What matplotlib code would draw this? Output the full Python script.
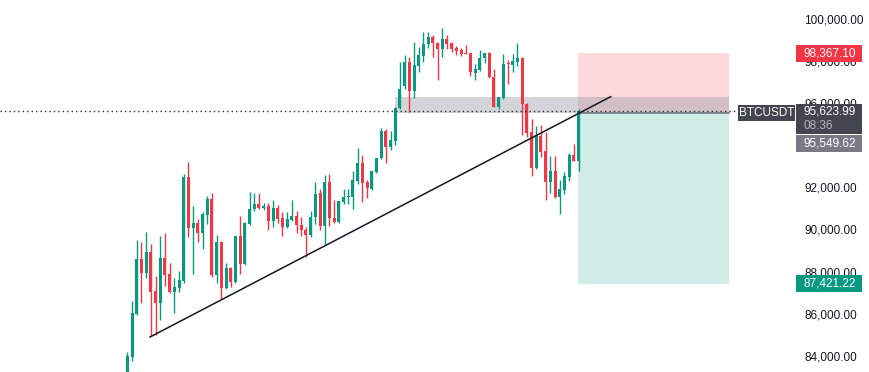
import matplotlib
matplotlib.use('Agg')
import matplotlib.pyplot as plt
from matplotlib.patches import Rectangle
from matplotlib.transforms import IdentityTransform
import numpy as np

plt.rcParams['font.family'] = ['Liberation Sans', 'DejaVu Sans']

opens = [83135, 83940, 85985, 88600, 87930, 88930, 87075, 86505, 88645, 87890,
         87030, 87220, 87550, 92490, 90070, 90305, 89830, 90690, 91450, 87845,
         89405, 87220, 88170, 87505, 89690, 88360, 90260, 90975, 91210, 91020,
         91115, 90400, 91020, 90545, 90115, 90450, 90640, 90210, 89975, 89735,
         90590, 91730, 90165, 92255, 90545, 90355, 91305, 91545, 91545, 92305,
         93160, 92255, 91925, 92730, 93395, 94680, 93920, 94200, 95770, 96815,
         97960, 96580, 97765, 98240, 98810, 99145, 98860, 98575, 99050, 98860,
         98620, 98525, 98380, 98385, 97435, 97575, 98145, 98385, 97245, 95820,
         96245, 97910, 97815, 97960, 98145, 95960, 94630, 92920, 94440, 93730,
         92255, 92780, 91545, 91875, 92490, 93540, 93250]
highs = [84180, 86600, 89500, 89405, 89880, 89310, 87790, 89690, 89830, 88405,
         87695, 88025, 92635, 93205, 91115, 90500, 90830, 91590, 91730, 89735,
         89450, 88405, 88215, 89690, 90640, 90355, 91780, 91730, 91730, 91260,
         91260, 91400, 91165, 90830, 90830, 91400, 90880, 90590, 90115, 90880,
         92255, 91925, 92590, 92635, 91400, 91350, 91925, 91925, 92780, 93870,
         93540, 92350, 92780, 93395, 94820, 94775, 94680, 95820, 97960, 98290,
         98195, 98905, 98670, 99380, 99380, 99240, 98905, 99570, 99240, 98905,
         98715, 98620, 98765, 98400, 97860, 98525, 98385, 98430, 97625, 96295,
         98335, 98050, 98335, 98860, 98195, 96010, 95250, 94915, 94965, 94630,
         93490, 93490, 92350, 92730, 93635, 94060, 95700]
lows = [82945, 83750, 85950, 86505, 87695, 84940, 84990, 85700, 87315, 86980,
        86030, 87030, 87455, 89640, 87890, 89405, 89070, 90260, 87745, 87455,
        86695, 87170, 87265, 87455, 87890, 88310, 90210, 90880, 90975, 90925,
        89975, 90115, 90305, 89690, 90070, 90400, 89830, 89690, 88690, 89640,
        90260, 89975, 89310, 90165, 90305, 90305, 91210, 91210, 90975, 92160,
        91305, 91495, 91880, 92685, 93350, 93160, 93775, 94010, 95720, 96675,
        95580, 96245, 97480, 97960, 98620, 98195, 97100, 98195, 98575, 98430,
        98290, 98240, 98335, 97290, 97100, 97530, 97910, 97195, 95800, 95720,
        96200, 96910, 97480, 97765, 94490, 94395, 92540, 92870, 93440, 91400,
        91730, 91495, 90735, 91685, 92305, 93230, 92780]
closes = [83990, 86030, 88600, 87930, 88930, 87030, 86505, 88645, 87845, 87030,
          87265, 87600, 92490, 90070, 90305, 89830, 90735, 91450, 87845, 89405,
          87220, 88170, 87505, 89690, 88360, 90305, 90975, 91210, 91020, 91115,
          90400, 91020, 90495, 90115, 90495, 90640, 90210, 89975, 89735, 90590,
          91685, 90165, 92255, 90545, 90355, 91350, 91545, 91590, 92350, 93160,
          92210, 91970, 92780, 93395, 94680, 93920, 94250, 95770, 96675, 97960,
          96580, 97815, 98290, 98810, 99145, 98860, 98575, 99050, 98810, 98575,
          98480, 98335, 98340, 97480, 97625, 98145, 98385, 97245, 95820, 96295,
          97860, 97860, 98005, 98145, 95960, 94585, 92920, 94490, 93680, 92255,
          92780, 91545, 91925, 92540, 93540, 93250, 95623.99]

trend_x = [4.83, 102.85]
trend_y = [84890, 96310]
zone_x = [57.0, 128.0]
zone_y = [95530, 96290]
pos_x = [95.8, 128.0]
entry_price = 95549.62
stop_price = 98367.10
target_price = 87421.22
last_price = 95623.99
countdown = "08:36"
symbol = "BTCUSDT"
yticks = [84000, 86000, 88000, 90000, 92000, 94000, 96000, 98000, 100000]

UP = '#089981'
DOWN = '#f23645'

fig = plt.figure(figsize=(8.7, 3.72), dpi=100)
ax = fig.add_axes([0, 0, 795 / 870, 1])
ax.set_xlim(-27.09, 142.06)
ax.set_ylim(83228, 100902)

o = np.array(opens, float)
h = np.array(highs, float)
l = np.array(lows, float)
c = np.array(closes, float)
x = np.arange(len(o))
cols = [UP if cc >= oo else DOWN for oo, cc in zip(o, c)]

# position boxes and zone
ax.add_patch(Rectangle((pos_x[0], entry_price), pos_x[1] - pos_x[0], stop_price - entry_price,
                       facecolor='#f7525f', alpha=0.22, edgecolor='none', zorder=1))
ax.add_patch(Rectangle((pos_x[0], target_price), pos_x[1] - pos_x[0], entry_price - target_price,
                       facecolor='#22ab94', alpha=0.21, edgecolor='none', zorder=1))
ax.add_patch(Rectangle((zone_x[0], zone_y[0]), zone_x[1] - zone_x[0], zone_y[1] - zone_y[0],
                       facecolor='#9598a1', alpha=0.4, edgecolor='none', zorder=1.5))
ax.plot(pos_x, [entry_price, entry_price], color='#787b86', lw=1.2, zorder=1.6)

# candles
ax.vlines(x, l, h, colors=cols, linewidth=1, zorder=3)
body_bottom = np.minimum(o, c)
body_h = np.maximum(np.abs(c - o), 45)
ax.bar(x, body_h, bottom=body_bottom, width=0.64, color=cols, edgecolor='none', zorder=3.1)

# trendline
ax.plot(trend_x, trend_y, color='#131722', lw=1.1, zorder=4)

# dotted last price line
ax.axhline(last_price, xmin=0, xmax=738 / 795, color='#2a2e39', lw=1, ls=(0, (1, 2.2)), zorder=4)

for s in ax.spines.values():
    s.set_visible(False)
ax.set_xticks([])
ax.yaxis.tick_right()
ax.set_yticks(yticks)
ax.set_yticklabels([f"{v:,.2f}" for v in yticks])
ax.tick_params(axis='y', length=0, pad=6.5, labelsize=8.5, labelcolor='#131722')

fig.canvas.draw()
I = IdentityTransform()


def ypix(p):
    return ax.transData.transform((0, p))[1]


def box(x0, y0, w, hh, fc):
    fig.add_artist(Rectangle((x0, y0), w, hh, transform=I, facecolor=fc,
                             edgecolor='none', zorder=10))


def txt(x0, y0, s, color='white', ha='left', size=8.5, weight='normal'):
    fig.text(x0, y0, s, transform=I, color=color, ha=ha, va='center',
             fontsize=size, weight=weight, zorder=11)


ys = ypix(stop_price)
box(796, ys - 8.5, 66, 17, DOWN)
txt(804, ys, f"{stop_price:,.2f}")

yt = ypix(target_price)
box(796, yt - 8.5, 66, 17, UP)
txt(804, yt, f"{target_price:,.2f}")

yc = ypix(last_price)
box(796, yc - 22.5, 66, 30, '#434651')
txt(804, yc, f"{last_price:,.2f}")
txt(804, yc - 14.5, countdown, color='#b2b5be')

box(738, yc - 9.5, 57, 16, '#434651')
txt(766.5, yc - 1.5, symbol, ha='center', size=8.5)

box(796, yc - 40.5, 66, 17, '#787b86')
txt(804, yc - 32, f"{entry_price:,.2f}")

fig.savefig('out.png', dpi=100, facecolor='white')
